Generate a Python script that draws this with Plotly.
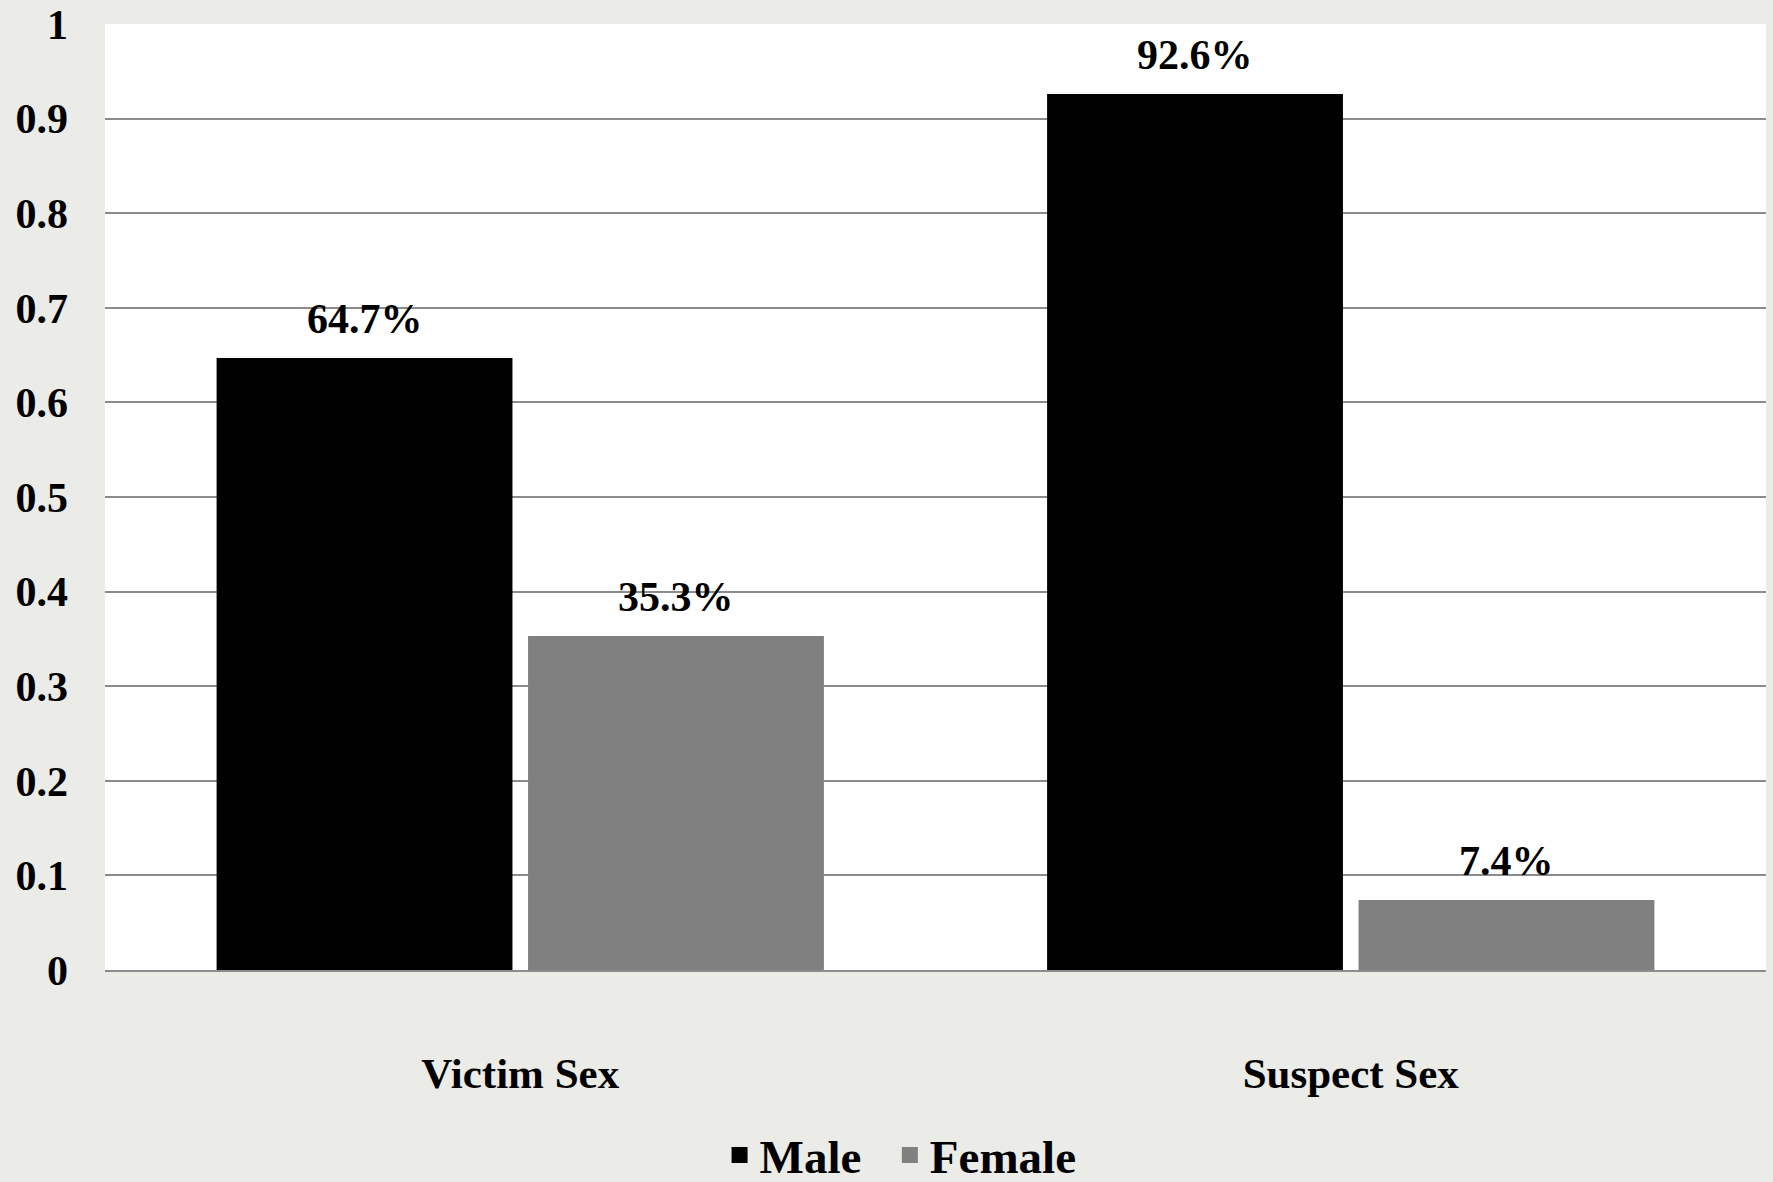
import plotly.graph_objects as go

categories = ["Victim Sex", "Suspect Sex"]
male = [0.647, 0.926]
female = [0.353, 0.074]
y_ticks = [0, 0.1, 0.2, 0.3, 0.4, 0.5, 0.6, 0.7, 0.8, 0.9, 1]
y_tick_text = ["0", "0.1", "0.2", "0.3", "0.4", "0.5", "0.6", "0.7", "0.8", "0.9", "1"]

FONT = "Liberation Serif"
BARGAP = 0.25
BARGROUPGAP = 0.05
series = [("Male", male, "#000000"), ("Female", female, "#808080")]

fig = go.Figure()
for name, vals, color in series:
    fig.add_trace(go.Bar(
        name=name, x=categories, y=vals,
        marker=dict(color=color, line=dict(width=0)),
        showlegend=False, hoverinfo="x+y",
    ))
# legend-only entries with larger square symbols
for k, (name, vals, color) in enumerate(series):
    label = name + ("\u00a0\u00a0" if k < len(series) - 1 else "")
    fig.add_trace(go.Scatter(
        name=label, x=[None], y=[None], mode="markers",
        marker=dict(symbol="square", size=16, color=color),
        showlegend=True,
    ))

# value labels above bars
slot = (1 - BARGAP) / len(series)
for j, (name, vals, color) in enumerate(series):
    off = -(1 - BARGAP) / 2 + slot * (j + 0.5)
    for i, v in enumerate(vals):
        fig.add_annotation(
            x=i + off, y=v, xref="x", yref="y",
            text=f"{v * 100:.1f}%", showarrow=False,
            yanchor="bottom", yshift=14,
            font=dict(family=FONT, size=42, color="#000000", weight="bold"),
        )

fig.update_layout(
    width=1773, height=1182,
    margin=dict(l=105, r=7, t=24, b=212, autoexpand=False),
    paper_bgcolor="#ebebe8",
    plot_bgcolor="#ffffff",
    barmode="group",
    bargap=BARGAP,
    bargroupgap=BARGROUPGAP,
    font=dict(family=FONT, size=40, color="#000000"),
    showlegend=True,
    legend=dict(
        orientation="h", x=0.37, xanchor="left", y=-0.196, yanchor="middle",
        font=dict(family=FONT, size=47, color="#000000", weight="bold"),
        bgcolor="rgba(0,0,0,0)", itemsizing="trace", itemwidth=30,
    ),
)
fig.update_xaxes(
    showgrid=False, showline=True, linecolor="#8c8c8c", linewidth=2,
    ticks="", ticklabelstandoff=64, range=[-0.5, 1.5], automargin=False,
    tickfont=dict(family=FONT, size=43, color="#000000", weight="bold"),
)
fig.update_yaxes(
    range=[0, 1], tickvals=y_ticks, ticktext=y_tick_text, automargin=False,
    showgrid=True, gridcolor="#8c8c8c", gridwidth=2,
    zeroline=False, showline=False, ticks="", ticklabelstandoff=36,
    tickfont=dict(family=FONT, size=42, color="#000000", weight="bold"),
)

fig.write_html(
    "out.html",
    config={"displayModeBar": False},
    post_script="document.body.style.margin='0';document.body.style.background='#ebebe8';",
)
